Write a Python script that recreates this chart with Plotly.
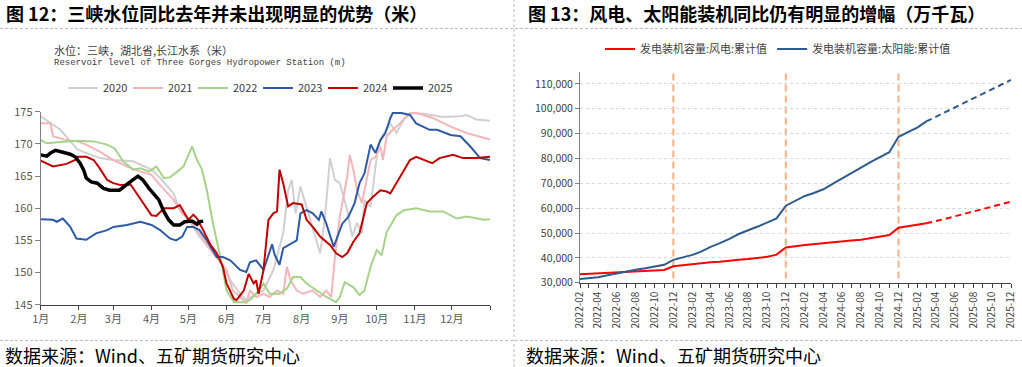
import plotly.graph_objects as go

# ---------------- Left chart: Three Gorges reservoir level (day of year) ----------------
month_ticks = [0, 31, 59, 90, 120, 151, 181, 212, 243, 273, 304, 334, 365]
month_labels = ["1月", "2月", "3月", "4月", "5月", "6月", "7月", "8月", "9月", "10月", "11月", "12月", ""]

days_2020 = [0, 16, 30, 48, 59, 75, 90, 97, 108, 113, 120, 129, 138, 146, 154, 162, 167, 173, 181, 189,
             197, 201, 204, 207, 211, 216, 221, 227, 231, 235, 239, 243, 249, 253, 257, 261, 263, 268, 272, 274,
             278, 284, 289, 295, 300, 311, 327, 341, 346, 354, 365]
lvl_2020 = [174.3, 172.2, 169.1, 167.8, 167.5, 167.3, 166.0, 164.7, 162.3, 159.7, 158.2, 155.6, 153.5, 151.9, 148.8, 146.7, 145.7, 146.5, 147.2, 150.4,
            156.1, 162.8, 164.4, 159.2, 163.4, 160.2, 156.6, 153.0, 158.7, 167.8, 164.4, 163.9, 159.7, 155.6, 157.7, 156.1, 161.3, 160.2, 166.5, 169.6,
            171.4, 173.2, 171.7, 173.8, 174.8, 174.7, 174.2, 174.3, 174.5, 173.8, 173.6]

days_2021 = [0, 8, 10, 21, 30, 37, 48, 59, 70, 81, 90, 97, 108, 115, 120, 129, 140, 151, 156, 162,
             167, 170, 175, 181, 186, 192, 197, 200, 203, 208, 213, 221, 227, 232, 236, 239, 243, 249, 251, 254,
             257, 261, 263, 268, 272, 276, 278, 281, 286, 292, 297, 303, 311, 319, 333, 346, 365]
lvl_2021 = [173.2, 173.2, 171.2, 170.6, 170.4, 169.9, 168.8, 167.5, 166.5, 165.7, 165.2, 163.6, 161.3, 159.2, 158.4, 156.1, 153.0, 150.4, 147.2, 146.2,
            145.2, 147.2, 146.2, 146.7, 146.2, 147.2, 146.7, 150.9, 148.8, 147.2, 146.7, 147.2, 146.2, 147.2, 146.2, 152.4, 158.7, 164.9, 168.3, 166.0,
            162.8, 160.8, 162.8, 167.5, 168.0, 169.6, 167.5, 171.2, 172.2, 173.2, 174.3, 174.9, 174.5, 174.0, 172.7, 171.7, 170.7]

days_2022 = [0, 5, 16, 30, 43, 54, 60, 67, 75, 81, 88, 94, 100, 105, 111, 116, 120, 123, 127, 131,
             135, 140, 146, 151, 157, 165, 170, 175, 181, 186, 194, 200, 205, 211, 216, 224, 232, 240, 243, 247,
             254, 259, 263, 268, 273, 277, 281, 285, 289, 295, 305, 316, 327, 338, 346, 360, 365]
lvl_2022 = [170.6, 170.1, 170.3, 170.5, 170.4, 169.9, 169.3, 167.3, 166.0, 166.2, 165.7, 166.5, 164.7, 164.8, 165.7, 166.5, 168.3, 169.6, 167.5, 166.0,
            162.8, 157.6, 152.4, 147.2, 145.4, 145.4, 145.7, 146.7, 148.3, 146.7, 146.7, 147.5, 149.3, 149.3, 148.3, 147.2, 146.2, 145.4, 146.2, 148.5,
            147.7, 146.5, 147.2, 150.9, 153.5, 152.7, 156.3, 157.6, 158.9, 159.7, 160.0, 159.5, 159.5, 158.4, 158.7, 158.2, 158.3]

days_2023 = [0, 10, 13, 18, 24, 29, 37, 45, 54, 59, 70, 81, 90, 97, 105, 110, 115, 119, 124, 129,
             135, 143, 148, 154, 162, 167, 170, 175, 181, 188, 190, 194, 197, 202, 208, 211, 216, 221, 226, 228,
             232, 238, 240, 245, 250, 255, 259, 263, 268, 272, 276, 280, 284, 286, 293, 300, 305, 316, 322, 333,
             341, 349, 357, 365]
lvl_2023 = [158.3, 158.2, 157.9, 158.4, 157.1, 155.3, 155.1, 156.1, 156.6, 157.1, 157.4, 157.9, 157.4, 156.6, 155.3, 155.0, 155.6, 157.1, 157.1, 156.6,
            155.0, 152.4, 152.4, 151.9, 150.4, 150.1, 151.6, 151.9, 150.4, 154.4, 152.8, 151.2, 153.8, 154.4, 155.0, 159.2, 159.7, 159.2, 158.2, 159.5,
            157.6, 154.0, 155.0, 157.6, 158.7, 160.8, 163.9, 165.4, 169.9, 168.6, 170.6, 171.7, 174.0, 174.8, 174.8, 174.5, 173.2, 172.2, 172.2, 171.4,
            171.2, 169.6, 167.8, 167.5]

days_2024 = [0, 10, 21, 28, 30, 37, 43, 48, 54, 59, 65, 73, 78, 83, 90, 94, 100, 108, 113, 116,
             120, 124, 127, 132, 138, 143, 148, 151, 157, 159, 165, 169, 173, 175, 177, 181, 185, 189, 192, 194,
             197, 201, 205, 212, 216, 221, 227, 235, 240, 245, 249, 254, 259, 265, 270, 276, 281, 284, 289, 295,
             300, 305, 311, 318, 324, 335, 343, 354, 365]
lvl_2024 = [167.4, 166.5, 166.9, 167.5, 168.0, 168.0, 167.5, 166.2, 164.4, 163.9, 163.6, 163.7, 162.3, 160.8, 158.9, 158.8, 160.0, 160.0, 160.5, 159.5,
            158.2, 159.0, 158.4, 156.6, 154.3, 153.0, 150.9, 148.3, 145.9, 145.7, 147.2, 149.8, 148.3, 148.8, 146.7, 150.4, 158.2, 159.2, 159.5, 166.0,
            163.9, 160.3, 160.8, 160.6, 158.2, 157.1, 155.6, 154.3, 153.0, 152.4, 153.0, 154.8, 156.1, 160.8, 161.8, 162.8, 162.6, 162.3, 163.9, 166.0,
            167.5, 168.0, 167.5, 167.0, 167.8, 168.3, 167.8, 167.8, 168.0]

days_2025 = [0, 5, 8, 12, 18, 24, 28, 32, 35, 37, 41, 46, 51, 56, 64, 69, 74, 79, 83, 88,
             92, 96, 100, 104, 108, 113, 117, 123, 127, 129, 132]
lvl_2025 = [168.3, 168.1, 168.6, 169.0, 168.7, 168.4, 168.0, 167.0, 165.9, 164.7, 164.1, 163.9, 163.1, 162.8, 162.8, 163.6, 164.3, 165.0, 164.4, 163.1,
            162.1, 161.3, 159.5, 158.2, 157.4, 157.4, 157.9, 158.0, 157.5, 157.9, 158.0]

level_series = [
    ("2020", days_2020, lvl_2020, "#d0d0d0", 2),
    ("2021", days_2021, lvl_2021, "#f4b6b8", 2),
    ("2022", days_2022, lvl_2022, "#a5d38a", 2),
    ("2023", days_2023, lvl_2023, "#2f5aa6", 2),
    ("2024", days_2024, lvl_2024, "#c00000", 2),
    ("2025", days_2025, lvl_2025, "#000000", 3.5),
]

# ---------------- Right chart: installed capacity (10k kW) ----------------
months_hist = ["2022-02", "2022-03", "2022-04", "2022-05", "2022-06", "2022-07", "2022-08", "2022-09", "2022-10", "2022-11", "2022-12",
               "2023-02", "2023-03", "2023-04", "2023-05", "2023-06", "2023-07", "2023-08", "2023-09", "2023-10", "2023-11", "2023-12",
               "2024-02", "2024-03", "2024-04", "2024-05", "2024-06", "2024-07", "2024-08", "2024-09", "2024-10", "2024-11", "2024-12",
               "2025-02", "2025-03"]
wind_hist = [33400, 33600, 33800, 34000, 34200, 34400, 34500, 34700, 34900, 35100, 36600,
             37500, 37800, 38200, 38400, 38900, 39200, 39500, 40000, 40400, 41300, 44200,
             45200, 45600, 45900, 46200, 46700, 47000, 47300, 48000, 48700, 49200, 52100,
             53200, 53900]
solar_hist = [31500, 31800, 32200, 33000, 33800, 34500, 35200, 35800, 36400, 37200, 39200,
              41200, 42500, 44400, 45900, 47600, 49600, 51000, 52600, 54200, 55900, 61000,
              64900, 66100, 67600, 69800, 72100, 74300, 76300, 78500, 80600, 82500, 88700,
              92500, 94900]
months_proj = ["2025-03", "2025-04", "2025-05", "2025-06", "2025-07", "2025-08", "2025-09", "2025-10", "2025-11", "2025-12"]
wind_proj = [53900, 54700, 55700, 56700, 57700, 58700, 59700, 60700, 61700, 62600]
solar_proj = [94900, 96800, 98600, 100400, 102200, 104000, 105900, 107800, 109700, 111600]
year_end_marks = ["2022-12-01", "2023-12-01", "2024-12-01"]

W, H = 1022, 367
FONT = "Noto Sans CJK SC, Noto Sans, sans-serif"


def px_x(p):
    return p / W


def px_y(p):
    return 1 - p / H


fig = go.Figure()

for name, d, v, col, lw in level_series:
    fig.add_trace(go.Scatter(x=d, y=v, mode="lines", name=name,
                             line=dict(color=col, width=lw), xaxis="x", yaxis="y",
                             legend="legend"))

fig.add_trace(go.Scatter(x=months_hist, y=wind_hist, mode="lines", name="发电装机容量:风电:累计值",
                         line=dict(color="#ff0000", width=2), xaxis="x2", yaxis="y2", legend="legend2"))
fig.add_trace(go.Scatter(x=months_hist, y=solar_hist, mode="lines", name="发电装机容量:太阳能:累计值",
                         line=dict(color="#2f5b8c", width=2), xaxis="x2", yaxis="y2", legend="legend2"))
fig.add_trace(go.Scatter(x=months_proj, y=wind_proj, mode="lines", showlegend=False,
                         line=dict(color="#ff0000", width=2, dash="6px,4px"), xaxis="x2", yaxis="y2"))
fig.add_trace(go.Scatter(x=months_proj, y=solar_proj, mode="lines", showlegend=False,
                         line=dict(color="#2f5b8c", width=2, dash="6px,4px"), xaxis="x2", yaxis="y2"))

shapes = []
for m in year_end_marks:
    shapes.append(dict(type="line", xref="x2", yref="y2 domain", x0=m, x1=m, y0=0.02, y1=1.0,
                       line=dict(color="#f4b183", width=2, dash="7px,4px"), layer="below"))
sep = dict(color="#bfbfbf", width=1, dash="3px,2px")
shapes.append(dict(type="line", xref="paper", yref="paper", x0=0, x1=1, y0=px_y(28.5), y1=px_y(28.5), line=sep))
shapes.append(dict(type="line", xref="paper", yref="paper", x0=0, x1=1, y0=px_y(340.5), y1=px_y(340.5), line=sep))
shapes.append(dict(type="line", xref="paper", yref="paper", x0=px_x(514), x1=px_x(514), y0=0, y1=1, line=sep))

annotations = [
    dict(text="<b>图 12：三峡水位同比去年并未出现明显的优势（米）</b>", x=px_x(4), y=px_y(13),
         font=dict(size=18, color="#000000", family=FONT)),
    dict(text="<b>图 13：风电、太阳能装机同比仍有明显的增幅（万千瓦）</b>", x=px_x(526), y=px_y(13),
         font=dict(size=18, color="#000000", family=FONT)),
    dict(text="水位：三峡，湖北省,长江水系（米）", x=px_x(52), y=px_y(50),
         font=dict(size=11, color="#404040", family=FONT)),
    dict(text="Reservoir level of Three Gorges Hydropower Station (m)", x=px_x(52), y=px_y(63),
         font=dict(size=9, color="#404040", family="Liberation Mono, DejaVu Sans Mono, monospace")),
    dict(text="数据来源：Wind、五矿期货研究中心", x=px_x(3), y=px_y(355),
         font=dict(size=18, color="#000000", family=FONT)),
    dict(text="数据来源：Wind、五矿期货研究中心", x=px_x(524), y=px_y(355),
         font=dict(size=18, color="#000000", family=FONT)),
]
for a in annotations:
    a.update(xref="paper", yref="paper", xanchor="left", yanchor="middle", showarrow=False)

fig.update_layout(
    width=W, height=H,
    margin=dict(l=0, r=0, t=0, b=0, autoexpand=False),
    paper_bgcolor="white", plot_bgcolor="white",
    font=dict(family=FONT, color="#404040"),
    shapes=shapes, annotations=annotations,
    xaxis=dict(domain=[px_x(40.7), px_x(490)], range=[0, 365], tickmode="array",
               tickvals=month_ticks, ticktext=month_labels, showgrid=False, zeroline=False,
               showline=True, linecolor="#404040", linewidth=1, ticks="outside", ticklen=4,
               tickcolor="#404040", tickfont=dict(size=11, color="#595959")),
    yaxis=dict(domain=[px_y(304.7), px_y(111.8)], range=[145, 175], dtick=5, tick0=145,
               showgrid=False, zeroline=False, showline=True, linecolor="#808080", linewidth=1,
               ticks="outside", ticklen=5, tickcolor="#808080", tickfont=dict(size=11, color="#595959")),
    xaxis2=dict(domain=[px_x(580), px_x(1011)], range=["2022-02-01", "2025-12-01"], type="date",
                tick0="2022-02-01", dtick="M2", tickformat="%Y-%m", tickangle=-90,
                showgrid=False, zeroline=False, showline=True, linecolor="#404040", linewidth=1,
                ticks="outside", ticklen=4, tickcolor="#404040",
                minor=dict(dtick="M1", ticks="outside", ticklen=4, tickcolor="#404040", showgrid=False),
                tickfont=dict(size=10, color="#404040"), anchor="y2"),
    yaxis2=dict(domain=[px_y(282.7), px_y(71.5)], range=[30000, 115000], tick0=30000, dtick=10000,
                tickformat=",d", showgrid=True, gridcolor="#d9d9d9", griddash="dot", zeroline=False,
                showline=True, linecolor="#808080", linewidth=1, ticks="outside", ticklen=4,
                tickcolor="#808080", tickfont=dict(size=10.5, color="#404040"), anchor="x2"),
    legend=dict(orientation="h", x=px_x(258), y=px_y(88), xanchor="center", yanchor="middle",
                font=dict(size=11, color="#404040", family=FONT), bgcolor="rgba(0,0,0,0)",
                entrywidth=20, entrywidthmode="pixels", itemclick=False),
    legend2=dict(orientation="h", x=px_x(778), y=px_y(49), xanchor="center", yanchor="middle",
                 font=dict(size=11, color="#404040", family=FONT), bgcolor="rgba(0,0,0,0)"),
)

fig.write_html("out.html", config={"displayModeBar": False},
               post_script="document.body.style.margin='0';document.body.style.padding='0';document.body.style.overflow='hidden';")
